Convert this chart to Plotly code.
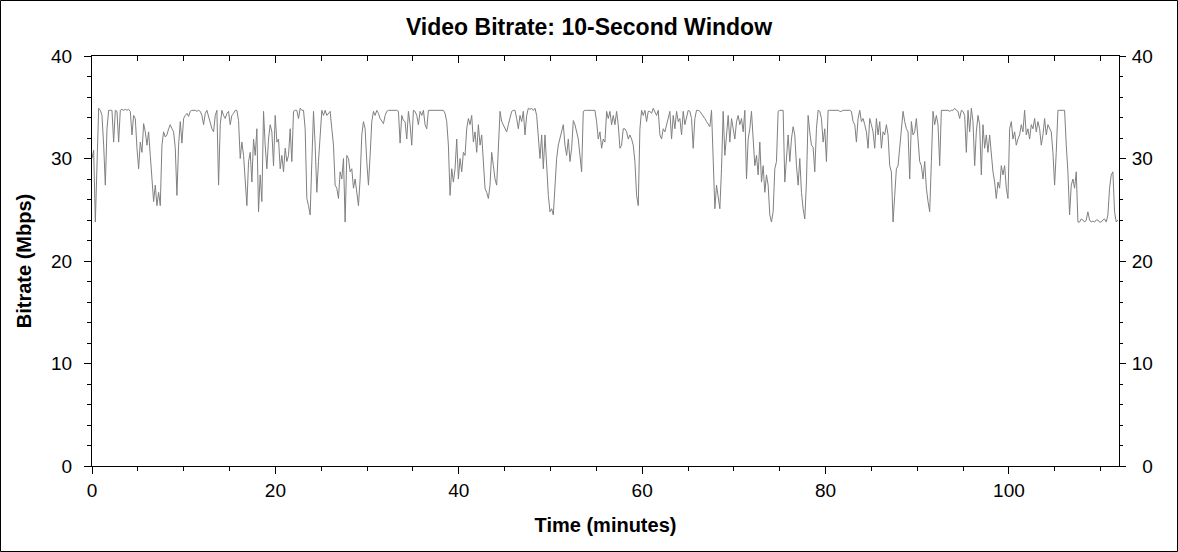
import numpy as np
import plotly.graph_objects as go

# ---------------- data ----------------
SAMPLE_INTERVAL_MIN = 0.18162  # one bitrate sample per ~10.9 s

bitrate_seg1 = [
    30.0, 30.8, 23.8, 29.7, 34.9, 34.7, 34.2, 31.3, 27.4, 32.9,
    34.7, 34.7, 34.7, 31.6, 34.7, 34.6, 31.6, 34.7, 34.8, 34.7,
    34.8, 34.7, 34.8, 34.6, 32.3, 34.2, 33.9, 31.0, 29.0, 31.6,
    30.6, 33.4, 32.6, 31.3, 32.6, 30.3, 28.4, 25.8, 27.4, 25.4,
    26.7, 25.4, 31.3, 32.6, 32.1, 32.3, 32.9, 33.3, 32.9, 32.6,
    31.0, 26.4, 31.3, 33.6, 31.5, 33.9, 34.2, 34.4, 34.1, 34.6,
    34.7, 34.7, 34.7, 34.6, 34.7, 34.6, 34.2, 33.3, 34.4, 34.7,
    34.1, 33.6, 32.9, 32.6, 34.2, 34.7, 27.4, 33.3, 34.7, 34.2,
    33.9, 34.4, 34.6, 33.3, 34.2, 34.4, 34.7, 34.7, 33.7, 30.0,
    31.6, 30.3, 27.7, 25.4, 29.7, 30.6, 27.7, 31.9, 30.3, 32.9,
    24.8,
]
bitrate_seg2 = [
    28.4, 25.8, 34.6, 31.3, 29.0, 31.9, 33.3, 32.6, 29.3, 34.2,
    31.6, 31.9, 29.0, 30.3, 28.7, 31.0, 29.7, 30.3, 32.9, 29.7,
    34.6, 34.7, 34.7, 33.9, 34.9, 34.7, 34.7, 32.9, 26.1, 25.4,
    24.5, 29.7, 34.6, 31.3, 26.7, 29.7, 32.9, 34.7, 34.2, 34.7,
    34.2, 34.4, 34.6, 32.9, 31.3, 27.4, 27.1, 26.1, 28.7, 28.0,
    30.0, 23.8, 30.3, 30.0, 28.7, 29.0, 27.1, 28.0, 26.7, 25.4,
    28.0, 32.3, 33.6, 32.9, 29.7, 27.4, 30.3, 33.6, 34.6, 34.2,
    34.7, 34.4, 33.9, 33.7, 33.4, 34.2, 34.6, 34.7, 34.7, 34.7,
    34.7, 34.7, 34.7, 34.6, 31.5, 34.2, 33.7, 33.6, 31.9, 34.6,
    33.3, 31.3, 34.7, 34.6, 34.2, 33.3, 34.6, 34.2, 34.7, 33.3,
    32.9, 34.7, 34.7, 34.7, 34.7,
]
bitrate_seg3 = [
    34.7, 34.7, 34.7, 34.7, 34.7, 34.7, 34.4, 33.6, 31.3, 26.4,
    29.0, 27.7, 29.0, 31.9, 28.0, 30.0, 28.7, 30.6, 30.3, 32.9,
    33.9, 33.3, 34.2, 31.6, 32.6, 30.6, 33.3, 31.3, 32.3, 30.0,
    27.1, 26.7, 26.1, 27.4, 30.6, 29.3, 28.0, 27.4, 31.3, 34.6,
    33.6, 33.3, 32.9, 32.6, 33.3, 33.9, 34.6, 34.7, 34.7, 33.9,
    32.9, 34.2, 33.6, 34.6, 32.3, 34.2, 34.9, 34.8, 34.9, 34.7,
    34.9, 34.2, 32.3, 30.0, 32.3, 29.0, 32.3, 29.0, 26.4, 24.8,
    25.1, 24.5, 27.1, 30.0, 31.3, 31.9, 32.6, 33.3, 31.3, 30.3,
    31.9, 29.7, 31.0, 33.7, 33.3, 32.6, 31.9, 30.3, 28.7, 34.6,
    34.7, 34.7, 34.7, 34.7, 34.7, 34.7, 34.7, 33.6, 31.9, 32.6,
    31.0, 31.9, 31.6, 34.6, 33.9,
]
bitrate_seg4 = [
    34.6, 33.3, 34.2, 33.3, 34.6, 33.3, 31.0, 31.3, 32.9, 32.9,
    32.6, 31.9, 32.3, 31.9, 31.3, 29.7, 26.4, 25.4, 32.9, 34.7,
    34.2, 34.7, 33.6, 34.6, 34.6, 34.4, 34.9, 34.6, 34.2, 34.7,
    32.3, 31.9, 32.9, 32.6, 33.3, 34.2, 34.6, 31.9, 34.2, 32.9,
    34.6, 33.6, 33.9, 32.3, 34.6, 33.3, 34.2, 34.7, 34.6, 33.9,
    31.0, 33.9, 34.7, 34.7, 34.6, 34.4, 34.1, 33.9, 33.6, 33.3,
    33.1, 34.7, 28.7, 25.1, 27.4, 26.4, 25.1, 29.0, 34.6, 30.3,
    32.3, 34.2, 31.6, 33.9, 32.9, 31.9, 33.6, 34.2, 33.3, 33.9,
    32.6, 34.7, 28.0, 31.9, 32.9, 34.6, 31.9, 29.3, 30.3, 28.4,
    31.6, 27.7, 29.3, 26.7, 28.4, 27.4, 24.5, 23.8, 24.8, 29.0,
    29.7, 34.6, 34.7, 34.7, 34.7,
]
bitrate_seg5 = [
    27.7, 29.7, 32.3, 29.7, 31.9, 33.1, 32.3, 29.3, 27.4, 30.0,
    26.7, 25.1, 24.1, 27.7, 34.2, 32.6, 31.3, 31.1, 28.7, 32.9,
    34.7, 34.6, 33.9, 31.6, 32.9, 29.7, 34.7, 34.7, 34.7, 34.7,
    34.7, 34.7, 34.7, 34.6, 34.6, 34.7, 34.7, 34.7, 34.7, 34.7,
    34.6, 33.6, 33.3, 31.6, 33.9, 34.7, 33.6, 33.9, 33.3, 32.6,
    31.0, 33.9, 33.3, 32.6, 31.0, 33.9, 32.3, 33.6, 31.0, 32.6,
    32.3, 33.3, 32.3, 29.3, 28.7, 23.8, 26.4, 29.0, 29.3, 31.0,
    32.9, 34.6, 33.6, 32.9, 32.6, 28.0, 33.6, 32.3, 32.6, 33.9,
    31.9, 29.7, 29.3, 28.0, 29.7, 27.1, 25.8, 24.8, 29.7, 34.6,
    33.3, 34.2, 33.3, 29.3, 34.7, 34.7, 34.7, 34.7, 34.7, 34.6,
    34.7, 34.7,
]
bitrate_seg6 = [
    34.9, 34.7, 34.6, 33.9, 34.7, 34.6, 34.2, 30.6, 34.7, 32.6,
    34.9, 33.6, 29.3, 32.6, 34.2, 33.3, 28.4, 33.3, 31.0, 32.3,
    30.6, 32.3, 30.3, 28.7, 27.7, 26.1, 27.7, 27.1, 29.3, 28.4,
    29.3, 27.1, 26.1, 32.9, 33.6, 31.9, 32.6, 31.3, 31.9, 32.3,
    33.3, 32.6, 34.7, 32.3, 32.9, 31.9, 33.3, 32.9, 33.9, 32.6,
    33.6, 32.9, 31.3, 32.3, 33.9, 32.3, 33.3, 32.9, 32.6, 30.6,
    27.4, 30.6, 34.7, 34.7, 34.7, 34.7, 34.7, 31.3, 28.7, 24.5,
    27.4, 28.0, 27.1, 28.7, 23.8, 23.8, 24.1, 24.0, 23.8, 24.0,
    24.8, 24.0, 23.8, 23.9, 23.8, 24.0, 24.0, 23.8, 23.8, 24.0,
    24.1, 23.8, 24.5, 27.1, 28.4, 28.7, 24.8, 23.8, 24.0,
]

x_tick_vals = [0, 20, 40, 60, 80, 100]
y_tick_vals = [0, 10, 20, 30, 40]
y_tick_text_right = ["\u20070", "10", "20", "30", "40"]

TITLE = "Video Bitrate: 10-Second Window"
X_TITLE = "Time (minutes)"
Y_TITLE = "Bitrate (Mbps)"

# ---------------- build ----------------
bitrate = np.array(bitrate_seg1 + bitrate_seg2 + bitrate_seg3 +
                   bitrate_seg4 + bitrate_seg5 + bitrate_seg6)
time_min = np.arange(len(bitrate)) * SAMPLE_INTERVAL_MIN

FONT = "Liberation Sans, Arial, sans-serif"
W, H = 1178, 552
ML, MR, MT, MB = 92, 59, 56, 86
PW, PH = W - ML - MR, H - MT - MB

fig = go.Figure()
fig.add_trace(go.Scatter(
    x=time_min, y=bitrate, mode="lines",
    line=dict(color="#808080", width=1),
    showlegend=False, hoverinfo="x+y",
))
# empty trace to instantiate the mirrored (top / right) axes
fig.add_trace(go.Scatter(x=[], y=[], xaxis="x2", yaxis="y2", showlegend=False))

axis_common = dict(showgrid=False, zeroline=False, showline=True,
                   linecolor="black", linewidth=1, tickcolor="black",
                   tickwidth=1)

fig.update_layout(
    width=W, height=H,
    margin=dict(l=ML, r=MR, t=MT, b=MB, autoexpand=False),
    paper_bgcolor="white", plot_bgcolor="white",
    font=dict(family=FONT, color="black", size=19),
    title=dict(text="<b>" + TITLE + "</b>", x=0.5, xanchor="center",
               y=1 - 27 / H, yanchor="middle", yref="container",
               font=dict(size=23, family=FONT, color="black")),
    xaxis=dict(**axis_common, range=[0, 112], tickvals=x_tick_vals,
               ticks="outside", ticklen=7, ticklabelstandoff=0,
               minor=dict(dtick=5, tick0=0, ticks="outside", ticklen=4,
                          tickcolor="black", showgrid=False),
               title=dict(text="<b>" + X_TITLE + "</b>", standoff=18,
                          font=dict(size=20, family=FONT))),
    xaxis2=dict(**axis_common, range=[0, 112], overlaying="x", side="top",
                anchor="y", tickvals=x_tick_vals, ticks="inside", ticklen=7,
                showticklabels=False,
                minor=dict(dtick=5, tick0=0, ticks="inside", ticklen=5,
                           tickcolor="black", showgrid=False)),
    yaxis=dict(**axis_common, range=[0, 40], tickvals=y_tick_vals,
               ticks="outside", ticklen=7, ticklabelstandoff=8,
               minor=dict(dtick=2, tick0=0, ticks="outside", ticklen=4,
                          tickcolor="black", showgrid=False),
               title=dict(text="<b>" + Y_TITLE + "</b>", standoff=14,
                          font=dict(size=20, family=FONT))),
    yaxis2=dict(**axis_common, range=[0, 40], overlaying="y", side="right",
                anchor="x", tickvals=y_tick_vals, ticktext=y_tick_text_right,
                ticks="outside", ticklen=6, ticklabelstandoff=2,
                minor=dict(dtick=2, tick0=0, ticks="outside", ticklen=3,
                           tickcolor="black", showgrid=False)),
    shapes=[dict(type="rect", xref="paper", yref="paper",
                 x0=(0.5 - ML) / PW, x1=(W - 0.5 - ML) / PW,
                 y0=(MT + PH - (H - 0.5)) / PH, y1=(MT + PH - 0.5) / PH,
                 line=dict(color="black", width=1), layer="above")],
)

fig.write_html(
    "out.html",
    config={"displayModeBar": False},
    post_script="document.body.style.margin='0';document.body.style.overflow='hidden';",
)
